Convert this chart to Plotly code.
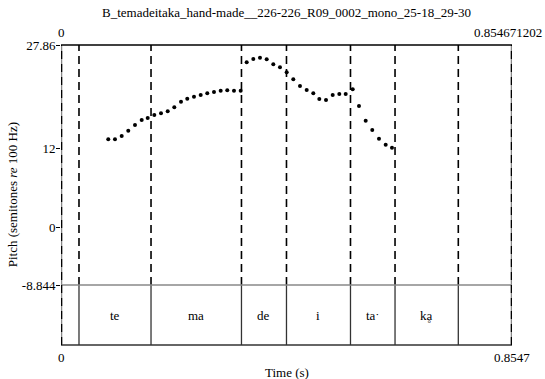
import plotly.graph_objects as go

# ---- data ----
title_text = "B_temadeitaka_hand-made__226-226_R09_0002_mono_25-18_29-30"
t_total = 0.854671202
y_min, y_max = -8.844, 27.86
y_ticks = [-8.844, 0, 12, 27.86]
y_tick_labels = ["-8.844", "0", "12", "27.86"]

pitch_times = [0.0896, 0.1023, 0.1150, 0.1275, 0.1402, 0.1529, 0.1643, 0.1768, 0.1895,
               0.2022, 0.2147, 0.2274, 0.2393, 0.2520, 0.2647, 0.2772, 0.2899, 0.3026,
               0.3151, 0.3278, 0.3405, 0.3519, 0.3644, 0.3771, 0.3898, 0.4023, 0.4150,
               0.4277, 0.4402, 0.4529, 0.4656, 0.4781, 0.4895, 0.5022, 0.5149, 0.5274,
               0.5395, 0.5528, 0.5647, 0.5774, 0.5899, 0.6026, 0.6153, 0.6272]
pitch_values = [13.44, 13.44, 13.94, 14.75, 15.63, 16.39, 16.70, 17.16, 17.41,
                17.72, 18.33, 19.19, 19.65, 19.95, 20.21, 20.47, 20.67, 20.87,
                20.93, 20.87, 20.87, 25.21, 25.72, 25.92, 25.67, 24.91, 24.45,
                23.69, 22.61, 21.59, 20.98, 20.47, 19.60, 19.45, 20.21, 20.37,
                20.37, 21.09, 18.53, 16.28, 14.86, 13.53, 12.61, 12.15]

boundaries = [0.0341, 0.1706, 0.3420, 0.4273, 0.5486, 0.6330, 0.7529]
syllables = ["te", "ma", "de", "i", "ta\u02d1", "ka\u0325"]

FONT = "Liberation Serif"
FS = 13
TIER = 0.2  # fraction of plot height used by the text tier

fig = go.Figure()
fig.add_trace(go.Scatter(x=pitch_times, y=pitch_values, mode="markers",
                         marker=dict(color="black", size=4), hoverinfo="skip"))

shapes = []
for b in boundaries:
    shapes.append(dict(type="line", xref="x", yref="paper", x0=b, x1=b, y0=TIER, y1=1,
                       line=dict(color="black", width=1.6, dash="8px,5px")))
    shapes.append(dict(type="line", xref="x", yref="paper", x0=b, x1=b, y0=0, y1=TIER,
                       line=dict(color="#333333", width=1.3)))
shapes.append(dict(type="line", xref="x", yref="paper", x0=0, x1=t_total, y0=1, y1=1,
                   line=dict(color="black", width=1.6)))
shapes.append(dict(type="line", xref="x", yref="paper", x0=0, x1=t_total, y0=TIER, y1=TIER,
                   line=dict(color="#888888", width=1.5)))
shapes.append(dict(type="line", xref="x", yref="paper", x0=0, x1=t_total, y0=0, y1=0,
                   line=dict(color="#333333", width=1.5)))
for xe in (0, t_total):
    shapes.append(dict(type="line", xref="x", yref="paper", x0=xe, x1=xe, y0=0, y1=1,
                       line=dict(color="#888888", width=2.5)))
    shapes.append(dict(type="line", xref="x", yref="paper", x0=xe, x1=xe, y0=0, y1=1,
                       line=dict(color="black", width=2.5, dash="8px,5px")))

def ann(x, y, text, xref="x", **kw):
    d = dict(x=x, y=y, xref=xref, yref="paper", text=text, showarrow=False,
             xanchor="center", yanchor="middle",
             font=dict(family=FONT, size=FS, color="black"))
    d.update(kw)
    return d

annotations = []
for i, s in enumerate(syllables):
    xc = (boundaries[i] + boundaries[i + 1]) / 2
    annotations.append(ann(xc, TIER / 2, s))

annotations += [
    ann(0.5, 1.107, title_text, xref="paper"),
    ann(0, 1.04, "0"),
    ann(1.07, 1.04, "0.854671202", xref="paper", xanchor="right"),
    ann(0, -0.04, "0"),
    ann(t_total, -0.04, "0.8547"),
    ann(0.5, -0.09, "Time (s)", xref="paper"),
    ann(-0.108, 0.5, "Pitch (semitones <i>re</i> 100 Hz)", xref="paper", textangle=-90),
]

fig.update_layout(
    width=545, height=379,
    margin=dict(l=61, r=33, t=45, b=34, autoexpand=False),
    paper_bgcolor="white", plot_bgcolor="white",
    font=dict(family=FONT, size=FS, color="black"),
    showlegend=False,
    hovermode=False,
    xaxis=dict(range=[0, t_total], showgrid=False, zeroline=False, showline=False,
               showticklabels=False, ticks=""),
    yaxis=dict(domain=[TIER, 1], range=[y_min, y_max], showgrid=False, zeroline=False,
               showline=False, ticks="outside", ticklen=4, tickwidth=1, tickcolor="black",
               tickvals=y_ticks, ticktext=y_tick_labels, ticklabelstandoff=-2,
               tickfont=dict(family=FONT, size=FS, color="black")),
    shapes=shapes,
    annotations=annotations,
)

fig.write_html("out.html", config={"displayModeBar": False},
               post_script="document.body.style.margin='0';document.body.style.overflow='hidden';")
